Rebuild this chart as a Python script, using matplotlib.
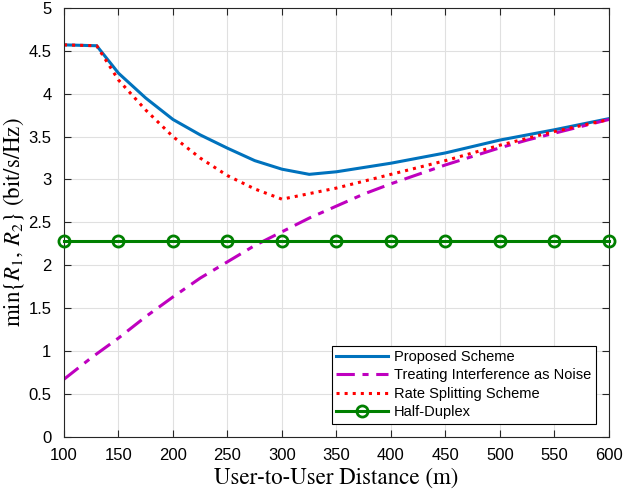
import matplotlib
matplotlib.use('Agg')
import matplotlib.pyplot as plt

# data
dist_prop = [100, 130, 150, 175, 200, 225, 250, 275, 300, 325, 350, 400, 450, 500, 550, 600]
rate_prop = [4.57, 4.56, 4.24, 3.95, 3.70, 3.52, 3.365, 3.22, 3.12, 3.06, 3.09, 3.19, 3.31, 3.46, 3.58, 3.71]

dist_tin = [100, 125, 150, 175, 200, 225, 250, 275, 300, 325, 350, 375, 400, 425, 450, 475, 500, 525, 550, 575, 600]
rate_tin = [0.67, 0.92, 1.15, 1.40, 1.63, 1.85, 2.04, 2.23, 2.39, 2.55, 2.69, 2.83, 2.95, 3.06, 3.17, 3.27, 3.37, 3.46, 3.54, 3.62, 3.70]

dist_rs = [100, 130, 150, 175, 200, 225, 250, 275, 300, 350, 400, 450, 500, 550, 600]
rate_rs = [4.57, 4.56, 4.16, 3.81, 3.50, 3.25, 3.045, 2.89, 2.77, 2.90, 3.06, 3.22, 3.40, 3.56, 3.70]

dist_hd = [100, 150, 200, 250, 300, 350, 400, 450, 500, 550, 600]
rate_hd = [2.28] * len(dist_hd)

labels = ['Proposed Scheme', 'Treating Interference as Noise',
          'Rate Splitting Scheme', 'Half-Duplex']

plt.rcParams['font.family'] = ['Liberation Sans', 'DejaVu Sans']
plt.rcParams['mathtext.fontset'] = 'stix'

fig = plt.figure(figsize=(6.23, 4.95), dpi=100)
ax = fig.add_axes([0.1027, 0.1178, 0.8748, 0.866])

ax.plot(dist_prop, rate_prop, '-', color=(0, 0.447, 0.741), lw=2.2, label=labels[0])
ax.plot(dist_tin, rate_tin, '-.', color=(0.75, 0, 0.75), lw=2.2, label=labels[1],
        dashes=(6, 2.5, 2, 2.5))
ax.plot(dist_rs, rate_rs, ':', color='red', lw=2.2, label=labels[2])
ax.plot(dist_hd, rate_hd, '-o', color=(0, 0.5, 0), lw=2.2, ms=8, mfc='none',
        mew=2, label=labels[3], clip_on=False, zorder=5)

ax.set_xlim(100, 600)
ax.set_ylim(0, 5)
ax.set_xticks(range(100, 601, 50))
ax.set_yticks([0, 0.5, 1, 1.5, 2, 2.5, 3, 3.5, 4, 4.5, 5])
ax.set_yticklabels(['0', '0.5', '1', '1.5', '2', '2.5', '3', '3.5', '4', '4.5', '5'])
ax.grid(True, color=(0.88, 0.88, 0.88), lw=0.8)
ax.set_axisbelow(True)
ax.tick_params(direction='in', top=True, right=True, labelsize=12, length=5,
               color=(0.15, 0.15, 0.15))
ax.tick_params(axis='x', pad=8)
ax.tick_params(axis='y', pad=9)
for s in ax.spines.values():
    s.set_color((0.15, 0.15, 0.15))
    s.set_linewidth(0.8)

ax.set_xlabel('User-to-User Distance (m)', fontfamily='STIXGeneral', fontsize=16.5,
              labelpad=3)
ax.set_ylabel(r'$\min\{R_1,\, R_2\}$ (bit/s/Hz)', fontfamily='STIXGeneral', fontsize=16.5,
              labelpad=2)

leg = ax.legend(loc='lower right', fontsize=10.5, fancybox=False, edgecolor='black',
                framealpha=1, handlelength=3.6, borderaxespad=0.9,
                labelspacing=0.3, borderpad=0.3, handletextpad=0.4)
leg.get_frame().set_linewidth(0.8)

fig.savefig('out.png', dpi=100)
